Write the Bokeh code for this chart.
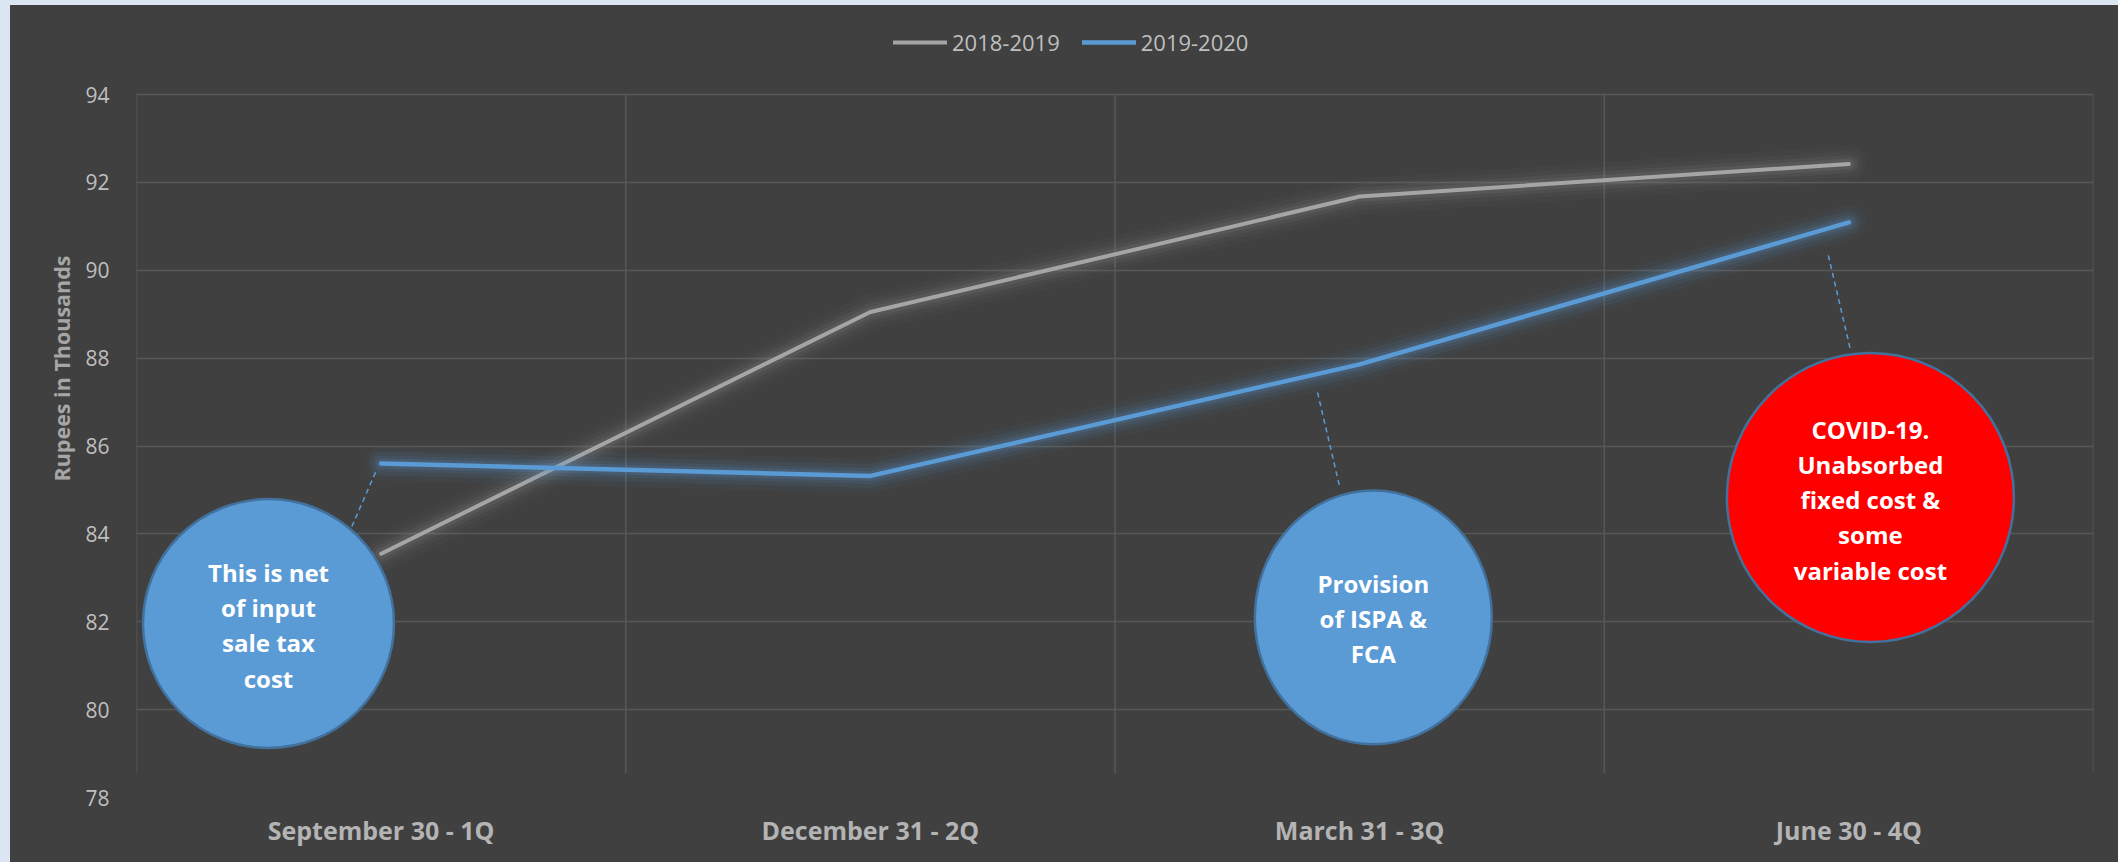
from bokeh.plotting import figure
from bokeh.models import FactorRange, Range1d, FixedTicker, Legend, LegendItem, Title
from bokeh.core.properties import value
from bokeh.embed import file_html
from bokeh.resources import INLINE

# ---- data ----
categories = ["September 30 - 1Q", "December 31 - 2Q", "March 31 - 3Q", "June 30 - 4Q"]
series_names = ["2018-2019", "2019-2020"]
values_2018_2019 = [83.55, 89.05, 91.68, 92.42]
values_2019_2020 = [85.60, 85.32, 87.86, 91.09]
y_ticks = [78, 80, 82, 84, 86, 88, 90, 92, 94]
y_axis_title = "Rupees in Thousands"
callout_texts = [
    "This is net\nof input\nsale tax\ncost",
    "Provision\nof ISPA &\nFCA",
    "COVID-19.\nUnabsorbed\nfixed cost &\nsome\nvariable cost",
]

BG = "#404040"
GRID = "#575757"
GRAY = "#a5a5a5"
BLUE = "#5b9bd5"

# frame extends above the top gridline so that the legend can live inside it
p = figure(
    x_range=FactorRange(factors=categories, range_padding=0),
    y_range=Range1d(y_ticks[0], 95.80),
    frame_width=1957, frame_height=782,
    min_border_left=126, min_border_right=25, min_border_top=10, min_border_bottom=65,
    output_backend="svg", toolbar_location=None,
    background_fill_color=BG, border_fill_color=BG,
)
p.outline_line_color = None

# grid
p.xgrid.visible = False
p.ygrid.ticker = FixedTicker(ticks=y_ticks[1:])
p.ygrid.grid_line_color = GRID
p.ygrid.grid_line_width = 1.5
bounds = list(range(len(categories) + 1))
p.segment(x0=bounds, y0=[78.55] * len(bounds), x1=bounds, y1=[y_ticks[-1]] * len(bounds),
          line_color=GRID, line_width=1.5)

# axes
xa = p.xaxis[0]
xa.axis_line_color = None
xa.major_tick_line_color = None
xa.minor_tick_line_color = None
xa.major_tick_out = 0
xa.major_label_text_font = "Open Sans"
xa.major_label_text_font_style = "bold"
xa.major_label_text_font_size = "25px"
xa.major_label_text_color = "#b4b4b4"
xa.major_label_standoff = 15

ya = p.yaxis[0]
ya.ticker = FixedTicker(ticks=y_ticks)
ya.axis_line_color = None
ya.major_tick_line_color = None
ya.minor_tick_line_color = None
ya.major_tick_out = 0
ya.major_label_text_font = "Open Sans"
ya.major_label_text_font_size = "21px"
ya.major_label_text_color = "#bfbfbf"
ya.major_label_standoff = 27

p.add_layout(Title(text=y_axis_title, align="left", offset=316, standoff=14,
                   text_font="Open Sans", text_font_style="bold",
                   text_font_size="21.5px", text_color="#a6a6a6"), "left")

# glow + lines
for w, a in [(36, 0.035), (26, 0.05), (18, 0.07), (11, 0.1)]:
    p.line(categories, values_2018_2019, line_width=w, line_alpha=a, line_color=GRAY,
           line_join="round", line_cap="round")
r1 = p.line(categories, values_2018_2019, line_width=4, line_color=GRAY,
            line_join="round", line_cap="round")
for w, a in [(34, 0.05), (24, 0.08), (16, 0.11), (10, 0.15)]:
    p.line(categories, values_2019_2020, line_width=w, line_alpha=a, line_color=BLUE,
           line_join="round", line_cap="round")
r2 = p.line(categories, values_2019_2020, line_width=4.5, line_color=BLUE,
            line_join="round", line_cap="round")

# callouts (annotation layout)
cx = [0.2698, 2.528, 3.544]
cy = [81.96, 82.10, 84.83]
cw = [251, 237, 287]
ch = [249, 254, 289]
fills = [BLUE, BLUE, "#ff0000"]
lx0 = [0.4885, 2.414, 3.458]
ly0 = [85.40, 87.22, 90.34]
lx1 = [0.4374, 2.459, 3.503]
ly1 = [84.10, 85.08, 88.20]
ty = [81.92, 82.07, 84.78]

p.segment(x0=lx0, y0=ly0, x1=lx1, y1=ly1, line_color=BLUE, line_width=1.5, line_dash="5 4")
p.ellipse(x=cx, y=cy, width=cw, height=ch, width_units="screen", height_units="screen",
          fill_color=fills, line_color="#41719c", line_width=2.5)
p.text(x=cx, y=ty, text=callout_texts, text_align="center", text_baseline="middle",
       text_font=value("Open Sans"), text_font_style="bold", text_font_size="24px",
       text_color="white", text_line_height=1.07)

legend = Legend(
    items=[LegendItem(label=series_names[0], renderers=[r1]),
           LegendItem(label=series_names[1], renderers=[r2])],
    orientation="horizontal", location=(757, 740),
    background_fill_alpha=0, border_line_alpha=0,
    label_text_font="Open Sans", label_text_font_size="22px", label_text_color="#bfbfbf",
    glyph_width=54, glyph_height=20, label_standoff=5, spacing=22, padding=0, margin=0,
)
p.add_layout(legend)

html = file_html(p, INLINE, title="chart")
css = ("<style>html{margin:0;padding:0;overflow:hidden;background:#dbe6f2;}"
       "body{margin:0;padding:0;overflow:hidden;background:#404040;"
       "border-left:10px solid #dbe6f2;border-top:5px solid #dbe6f2;}</style></head>")
html = html.replace("</head>", css, 1)
open("out.html", "w").write(html)
